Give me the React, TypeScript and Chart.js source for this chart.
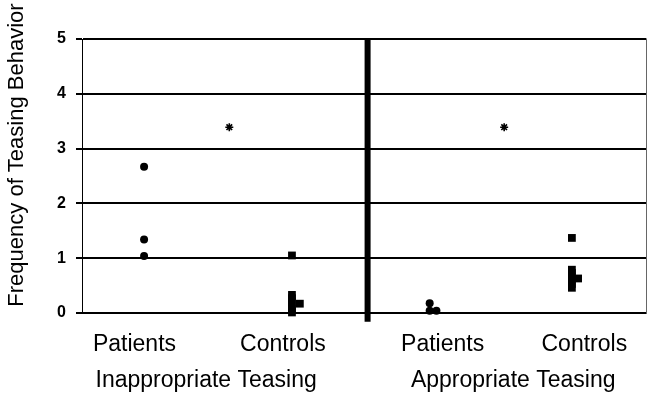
import React, { useEffect, useRef } from "react";
import { Chart, registerables } from "chart.js";

Chart.register(...registerables);

const FONT = '"Liberation Sans", Arial, sans-serif';

// Axis texts
const yTitle = "Frequency of Teasing Behavior";
const yMin = 0;
const yMax = 5;
const subjectLabels = ["Patients", "Controls", "Patients", "Controls"];
const subjectLabelX = [0.093, 0.356, 0.639, 0.89];
const groupLabels = ["Inappropriate Teasing", "Appropriate Teasing"];
const groupLabelX = [0.22, 0.764];

// Inappropriate teasing — patients (circles)
const inapPatientsX = [0.11, 0.11, 0.11];
const inapPatientsY = [2.67, 1.34, 1.04];
// Inappropriate teasing — controls (squares)
const inapControlsX = [0.372, 0.372, 0.372, 0.372, 0.372, 0.372, 0.372, 0.386];
const inapControlsY = [1.05, 0.33, 0.27, 0.2, 0.13, 0.07, 0.01, 0.17];
// Appropriate teasing — patients (circles)
const apPatientsX = [0.616, 0.616, 0.628];
const apPatientsY = [0.18, 0.04, 0.04];
// Appropriate teasing — controls (squares)
const apControlsX = [0.868, 0.868, 0.868, 0.868, 0.868, 0.868, 0.868, 0.879];
const apControlsY = [1.37, 0.79, 0.73, 0.66, 0.6, 0.53, 0.46, 0.63];
// Significance markers
const sigX = [0.261, 0.748];
const sigY = [3.39, 3.39];
// Divider between the two panels
const dividerX = [0.506, 0.506];
const dividerY = [5, -0.16];

const pts = (xs: number[], ys: number[]) => xs.map((x, i) => ({ x, y: ys[i] }));

const yTitlePlugin = {
  id: "yTitlePlugin",
  afterDraw(chart: any) {
    const ctx = chart.ctx;
    const area = chart.chartArea;
    ctx.save();
    ctx.translate(area.left - 65, area.top + 116);
    ctx.rotate(-Math.PI / 2);
    ctx.font = `22px ${FONT}`;
    ctx.fillStyle = "#000";
    ctx.textAlign = "center";
    ctx.textBaseline = "middle";
    ctx.fillText(yTitle, 0, 0);
    ctx.restore();
  },
};

export default function App() {
  const ref = useRef<HTMLCanvasElement | null>(null);

  useEffect(() => {
    if (!ref.current) return;
    const common = { clip: false as any, borderColor: "#000", backgroundColor: "#000" };
    const chart = new Chart(ref.current, {
      type: "scatter",
      data: {
        datasets: [
          {
            label: "divider",
            data: pts(dividerX, dividerY),
            showLine: true,
            borderWidth: 6,
            pointRadius: 0,
            ...common,
          },
          {
            label: "Inappropriate Patients",
            data: pts(inapPatientsX, inapPatientsY),
            pointStyle: "circle",
            pointRadius: 4,
            borderWidth: 0,
            ...common,
          },
          {
            label: "Inappropriate Controls",
            data: pts(inapControlsX, inapControlsY),
            pointStyle: "rect",
            pointRadius: 5.5,
            borderWidth: 0,
            ...common,
          },
          {
            label: "Appropriate Patients",
            data: pts(apPatientsX, apPatientsY),
            pointStyle: "circle",
            pointRadius: 4,
            borderWidth: 0,
            ...common,
          },
          {
            label: "Appropriate Controls",
            data: pts(apControlsX, apControlsY),
            pointStyle: "rect",
            pointRadius: 5.5,
            borderWidth: 0,
            ...common,
          },
          {
            label: "significance",
            data: pts(sigX, sigY),
            pointStyle: "star",
            pointRadius: 4,
            borderWidth: 1.6,
            ...common,
          },
        ],
      },
      options: {
        responsive: false,
        animation: false,
        layout: { padding: { top: 39, right: 3, left: 0, bottom: 0 } },
        plugins: { legend: { display: false }, tooltip: { enabled: false } },
        scales: {
          x: {
            type: "linear",
            min: 0,
            max: 1,
            position: "bottom",
            weight: 0,
            grid: { display: false },
            border: { display: false },
            afterBuildTicks: (s: any) => {
              s.ticks = subjectLabelX.map((v) => ({ value: v }));
            },
            ticks: {
              autoSkip: false,
              maxRotation: 0,
              padding: 10,
              color: "#000",
              font: { size: 23, family: FONT },
              callback: (_v: any, i: number) => subjectLabels[i],
            },
            afterFit: (s: any) => {
              s.height = 44;
            },
          },
          x2: {
            type: "linear",
            min: 0,
            max: 1,
            position: "bottom",
            weight: 1,
            grid: { display: false },
            border: { display: false },
            afterBuildTicks: (s: any) => {
              s.ticks = groupLabelX.map((v) => ({ value: v }));
            },
            ticks: {
              autoSkip: false,
              maxRotation: 0,
              padding: 2,
              color: "#000",
              font: { size: 23, family: FONT },
              callback: (_v: any, i: number) => groupLabels[i],
            },
            afterFit: (s: any) => {
              s.height = 43;
            },
          },
          y: {
            min: yMin,
            max: yMax,
            ticks: {
              stepSize: 1,
              padding: 10,
              color: "#000",
              font: { size: 16, weight: "bold", family: FONT },
            },
            grid: { color: "#000", lineWidth: 2, tickLength: 6 },
            border: { display: true, color: "#000", width: 1 },
            afterFit: (s: any) => {
              s.width = 82;
            },
          },
          yr: {
            position: "right",
            min: yMin,
            max: yMax,
            ticks: { display: false },
            grid: { display: false, drawTicks: false },
            border: { display: true, color: "#666", width: 1 },
            afterFit: (s: any) => {
              s.width = 0;
            },
          },
        },
      } as any,
      plugins: [yTitlePlugin],
    });
    return () => chart.destroy();
  }, []);

  return (
    <div style={{ position: "absolute", left: 0, top: 0, width: 652, height: 400, background: "#fff" }}>
      <canvas ref={ref} width={652} height={400} />
    </div>
  );
}
